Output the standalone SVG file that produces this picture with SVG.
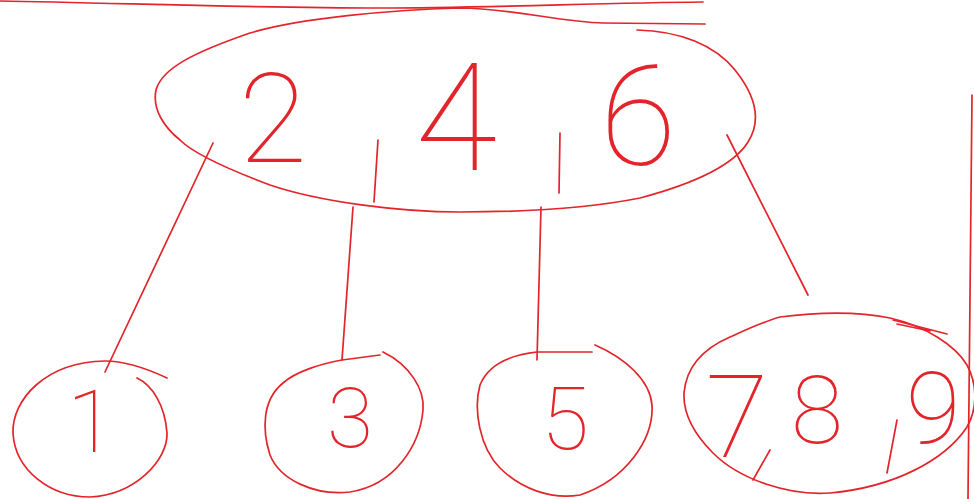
<svg xmlns="http://www.w3.org/2000/svg" width="974" height="499" viewBox="0 0 974 499">
<style>
.s{fill:none;stroke:#e3242b;stroke-width:1.7;stroke-linecap:round;stroke-linejoin:round}
.t{fill:#e3242b;font-family:Roboto,Inter,"Liberation Sans",sans-serif;font-weight:100;text-anchor:middle}
</style>
<rect width="974" height="499" fill="#ffffff"/>
<g id="frame">
<path class="s" d="M0,1 C120,3 250,8 380,8 C480,8 600,3 703,2"/>
<path class="s" d="M972,95 L968,499"/>
</g>
<g id="connectors">
<path class="s" d="M213,143 L105,372"/>
<path class="s" d="M353,207 L342,360"/>
<path class="s" d="M541,207 L537,360"/>
<path class="s" d="M727,135 L808,295"/>
</g>
<g id="node-246">
<path class="s" d="M637,30 C680,31 715,45 735,70 C755,95 762,120 748,142 C735,163 700,182 640,198 C590,208 520,212 460,212 C400,212 320,202 270,185 C230,170 195,155 180,140 C165,128 152,110 156,90 C162,68 195,52 250,33 C300,18 390,10 460,8 C510,8 560,22 603,23 L705,24"/>
<path class="s" d="M378,140 L374,202 M560,133 L559,193"/>
<text class="t" x="273" y="162" font-size="125">2</text>
<text class="t" x="456" y="170" font-size="150">4</text>
<text class="t" x="638" y="165" font-size="140">6</text>
</g>
<g id="node-1">
<path class="s" d="M137,378 C152,385 165,405 167,433 C168,460 135,495 90,497 C50,497 15,470 13,433 C12,400 45,362 105,361 C125,361 150,370 167,378"/>
<text class="t" x="91" y="452" font-size="88">1</text>
</g>
<g id="node-3">
<path class="s" d="M342,360 L380,355 M383,352 C410,365 425,390 423,410 C420,445 395,485 350,492 C315,496 280,480 270,455 C262,430 262,400 283,383 C295,372 320,364 342,360"/>
<text class="t" x="350" y="447" font-size="84">3</text>
</g>
<g id="node-5">
<path class="s" d="M537,352 L592,352 M595,345 C625,358 650,380 652,405 C654,440 625,480 580,495 C550,500 520,488 500,468 C480,448 473,410 480,385 C488,365 510,355 537,352"/>
<text class="t" x="565" y="449" font-size="87">5</text>
</g>
<g id="node-789">
<path class="s" d="M780,317 C820,312 860,312 890,318 C925,326 955,345 967,365 C978,385 977,410 967,427 C945,460 895,487 830,493 C790,496 740,480 713,453 C695,435 683,415 684,393 C686,370 700,350 730,337 C750,328 765,321 780,317 Z"/>
<path class="s" d="M893,320 L947,334 M897,324 L930,331"/>
<path class="s" d="M770,450 L753,480 M897,420 L887,473"/>
<text class="t" x="737" y="457" font-size="115">7</text>
<text class="t" x="817" y="443" font-size="95">8</text>
<text class="t" x="933" y="443" font-size="100">9</text>
</g>
</svg>
